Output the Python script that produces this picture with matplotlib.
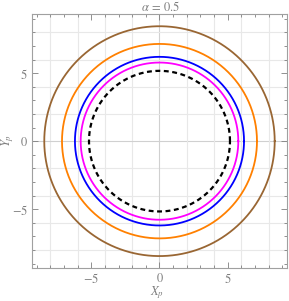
import numpy as np
import matplotlib.pyplot as plt
from matplotlib.ticker import MultipleLocator

# shadow radii
labels = ["r1", "r2", "r3", "r4", "r5"]
radii = [8.45, 7.15, 6.2, 5.78, 5.17]
colors = ["#996633", "#ff8000", "#0000ff", "#ff00ff", "black"]
styles = ["-", "-", "-", "-", "--"]
alpha_val = 0.5

plt.rcParams['mathtext.fontset'] = 'stix'
plt.rcParams['font.family'] = ['Liberation Serif', 'DejaVu Serif']

gray = "#7f7f7f"
fig = plt.figure(figsize=(2.89, 3.01), dpi=100)
ax = fig.add_axes([0.1107, 0.1086, 0.8823, 0.8449])

th = np.linspace(0, 2 * np.pi, 600)
for r, c, ls in zip(radii, colors, styles):
    if ls == "--":
        ax.plot(r * np.cos(th), r * np.sin(th), color=c, lw=1.6, ls=(0, (2.2, 1.6)))
    else:
        ax.plot(r * np.cos(th), r * np.sin(th), color=c, lw=1.3)

ax.set_xlim(-9.35, 9.35)
ax.set_ylim(-9.35, 9.35)

# grid every 2 units, zero lines a bit darker
for g in np.arange(-8, 9, 2):
    col = "#d0d0d0" if g == 0 else "#e8e8e8"
    ax.axvline(g, color=col, lw=0.8, zorder=0)
    ax.axhline(g, color=col, lw=0.8, zorder=0)

ax.xaxis.set_minor_locator(MultipleLocator(1))
ax.yaxis.set_minor_locator(MultipleLocator(1))
ax.set_xticks([-5, 0, 5])
ax.set_yticks([-5, 0, 5])
ax.set_xticklabels(["$-5$", "$0$", "$5$"])
ax.set_yticklabels(["$-5$", "$0$", "$5$"])
ax.tick_params(which='both', direction='in', top=True, right=True,
               color=gray, labelcolor=gray, labelsize=9, width=0.6, pad=3)
ax.tick_params(which='major', length=4)
ax.tick_params(which='minor', length=2)

for s in ax.spines.values():
    s.set_color("#a0a0a0")
    s.set_linewidth(0.8)

fig.text(0.543, 0.028, "$X_p$", color=gray, fontsize=9, ha='center', va='center')
fig.text(0.026, 0.532, "$Y_p$", color=gray, fontsize=9, ha='center', va='center',
         rotation=90)
fig.text(0.557, 0.978, r"$\alpha\,=\,%s$" % alpha_val, color=gray, fontsize=9,
         ha='center', va='center')

fig.savefig("out.png", dpi=100)
